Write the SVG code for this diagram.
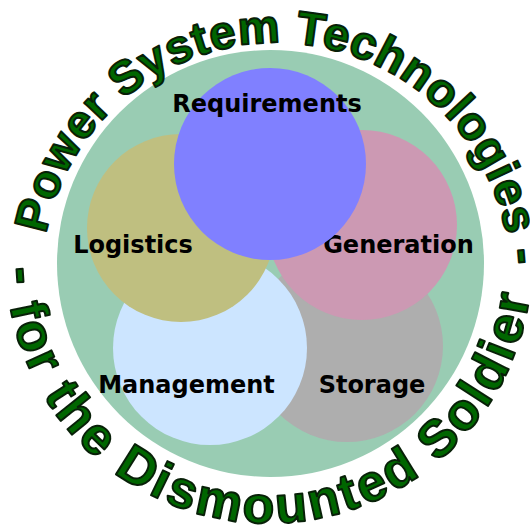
<svg xmlns="http://www.w3.org/2000/svg" width="530" height="529" viewBox="0 0 530 529">
<style>
.lbl{font-family:"DejaVu Sans",Verdana,sans-serif;font-weight:bold;font-size:24px;fill:#000;text-anchor:middle}
.arc{font-family:"Liberation Sans",Arial,sans-serif;font-weight:bold;fill:#006600;stroke:#082008;stroke-width:2;stroke-linejoin:round}
</style>
<defs>
<path id="topArc" d="M42.32,264.75 A234,234 0 0 1 509.86,285.17"/>
<path id="botArc" d="M6.16,250.82 A263,263 0 0 0 531.64,273.77"/>
</defs>
<rect width="530" height="529" fill="#fff"/>
<g id="background">
<circle cx="270.5" cy="263.5" r="213.5" fill="#99CCB3"/>
</g>
<g id="storage">
<circle cx="347" cy="346" r="96" fill="#AEAEAE"/>
<text class="lbl" x="372" y="393">Storage</text>
</g>
<g id="management">
<circle cx="210" cy="348" r="97" fill="#CCE5FF"/>
<text class="lbl" x="186.5" y="393">Management</text>
</g>
<g id="logistics">
<circle cx="181" cy="228" r="94" fill="#BFBF80"/>
<text class="lbl" x="133" y="253">Logistics</text>
</g>
<g id="generation">
<circle cx="362" cy="225" r="95" fill="#CC99B3"/>
<text class="lbl" x="398.5" y="253">Generation</text>
</g>
<g id="requirements">
<circle cx="270" cy="164" r="96" fill="#8080FF"/>
<text class="lbl" x="267" y="112">Requirements</text>
</g>
<g id="title">
<text class="arc" font-size="47"><textPath href="#topArc" startOffset="31" textLength="680" lengthAdjust="spacing">Power System Technologies -</textPath></text>
<text class="arc" font-size="52"><textPath href="#botArc" startOffset="17" textLength="782" lengthAdjust="spacing">- for the Dismounted Soldier</textPath></text>
</g>
<g id="connectors"/>
</svg>
